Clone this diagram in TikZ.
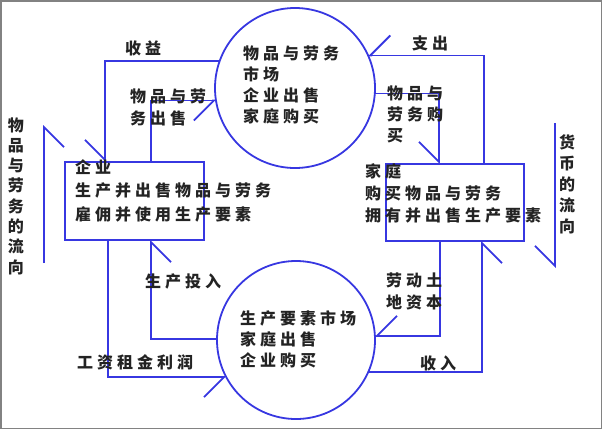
\documentclass[tikz,border=0pt]{standalone}
\usepackage{fontspec}
\newfontfamily\cjk{Noto Sans CJK SC}[LetterSpace=25]
\newfontfamily\cjkv{Noto Sans CJK SC}
\usetikzlibrary{arrows.meta}
\definecolor{lineblue}{RGB}{55,55,225}
\definecolor{textdark}{RGB}{35,35,35}
\definecolor{framegray}{RGB}{130,130,130}
\begin{document}
\begin{tikzpicture}[x=1pt,y=-1pt,
  market/.style={circle,draw=lineblue,line width=1.8pt,inner sep=0pt,outer sep=0pt,minimum size=#1},
  agent/.style={rectangle,draw=lineblue,line width=1.8pt,inner sep=0pt,outer sep=0pt},
  flow/.style={draw=lineblue,line width=1.8pt,-{Straight Barb[harpoon,swap,length=20pt,width=40pt]}},
  lbl/.style={font=\cjk\bfseries\fontsize{16}{#1}\selectfont,text=textdark,inner sep=0pt,align=left,anchor=west},
  lbl/.default=21,
  vlbl/.style={font=\cjkv\bfseries\fontsize{16}{#1}\selectfont,text=textdark,inner sep=0pt,align=center}
]
\useasboundingbox (0,0) rectangle (602,429);
\draw[framegray,line width=1.5pt] (0.75,0.75) rectangle (601.25,428.25);

% markets and agents
\node[market=160pt] (mkt1) at (295,88) {};
\node[market=158pt] (mkt2) at (296,340) {};
\node[agent,minimum width=139pt,minimum height=78pt] (firm) at (134.5,201) {};
\node[agent,minimum width=138pt,minimum height=77pt] (hh) at (455,202.5) {};

% x positions of vertical connector segments
\coordinate (xA) at (105,0);
\coordinate (xB) at (151,0);
\coordinate (xC) at (484,0);
\coordinate (xD) at (439,0);
\coordinate (xE) at (440,0);
\coordinate (xF) at (482,0);
\coordinate (xH) at (108,0);

% connectors
\draw[flow] (mkt1.160) -| (xA |- firm.north);
\draw[flow] (xB |- firm.north) |- (mkt1.189);
\draw[flow] (xC |- hh.north) |- (mkt1.24);
\draw[flow] (mkt1.356) -| (xD |- hh.north);
\draw[flow] (xE |- hh.south) |- (mkt2.3);
\draw[flow] (mkt2.336) -| (xF |- hh.south);
\draw[flow] (mkt2.179) -| (xB |- firm.south);
\draw[flow] (xH |- firm.south) |- (mkt2.208);

% side flow lines
\coordinate (gBot) at (44,263);
\coordinate (gTop) at (44,125);
\coordinate (mTop) at (555,123);
\coordinate (mBot) at (555,268);
\draw[flow] (gBot) -- (gTop);
\draw[flow] (mTop) -- (mBot);

% texts
\node[lbl] (tMkt1) at (243,84.5) {物品与劳务\\市场\\企业出售\\家庭购买};
\node[lbl] (tMkt2) at (240,339) {生产要素市场\\家庭出售\\企业购买};
\node[lbl=23.5] (tFirm) at (75,190.5) {企业\\生产并出售物品与劳务\\雇佣并使用生产要素};
\node[lbl=22] (tHh) at (365,193) {家庭\\购买物品与劳务\\拥有并出售生产要素};
\node[lbl] (tA) at (125,48) {收益};
\node[lbl=22] (tB) at (130,107) {物品与劳\\务出售};
\node[lbl] (tC) at (412,43) {支出};
\node[lbl] (tD) at (387,114) {物品与\\劳务购\\买};
\node[lbl=22] (tE) at (386,291) {劳动土\\地资本};
\node[lbl] (tF) at (420,363) {收入};
\node[lbl] (tG) at (145,281) {生产投入};
\node[lbl] (tH) at (77,362) {工资租金利润};
\node[vlbl=20.3] (tGoods) at (16,196) {物\\品\\与\\劳\\务\\的\\流\\向};
\node[vlbl=21] (tMoney) at (567,184.5) {货\\币\\的\\流\\向};
\end{tikzpicture}
\end{document}
